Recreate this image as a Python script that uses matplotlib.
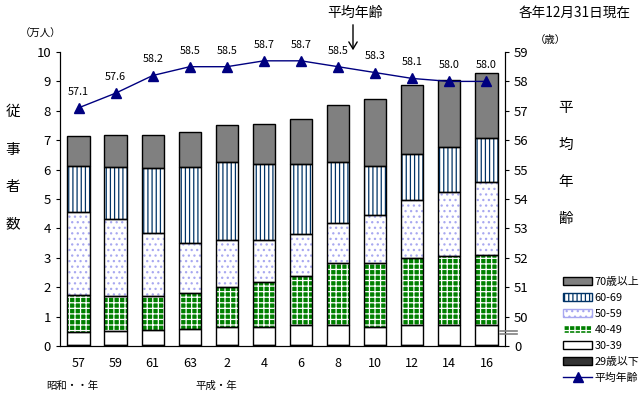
import matplotlib
matplotlib.use("Agg")
import matplotlib.pyplot as plt
from matplotlib.patches import Patch, FancyArrowPatch
from matplotlib.lines import Line2D
import numpy as np

plt.rcParams['font.family'] = ['Noto Sans CJK JP', 'DejaVu Sans']
plt.rcParams['hatch.linewidth'] = 0.9

years = ["57", "59", "61", "63", "2", "4", "6", "8", "10", "12", "14", "16"]
age_29 = [0.03] * 12
age_30s = [0.45, 0.49, 0.53, 0.56, 0.63, 0.63, 0.67, 0.70, 0.63, 0.70, 0.70, 0.67]
age_40s = [1.26, 1.18, 1.14, 1.20, 1.33, 1.50, 1.67, 2.08, 2.18, 2.28, 2.32, 2.38]
age_50s = [2.83, 2.61, 2.16, 1.73, 1.60, 1.43, 1.43, 1.36, 1.60, 1.95, 2.18, 2.49]
age_60s = [1.55, 1.77, 2.19, 2.56, 2.66, 2.59, 2.38, 2.08, 1.67, 1.58, 1.53, 1.50]
age_70 = [1.02, 1.09, 1.12, 1.19, 1.26, 1.37, 1.55, 1.94, 2.29, 2.33, 2.29, 2.21]
avg_age = [57.1, 57.6, 58.2, 58.5, 58.5, 58.7, 58.7, 58.5, 58.3, 58.1, 58.0, 58.0]
series_names = ["29歳以下", "30-39", "40-49", "50-59", "60-69", "70歳以上"]
line_name = "平均年齢"

fig = plt.figure(figsize=(6.4, 3.97), dpi=100)
ax = fig.add_axes([60/640, 1-346/397, 445/640, 294/397])
ax2 = ax.twinx()

x = np.arange(len(years))
w = 0.6
GREEN_HATCH = "+++"
DOT_COLOR = "#a8a8f0"
styles = [
    ("#333333", None, None),
    ("white", None, None),
    ("#008000", "white", GREEN_HATCH),
    ("white", DOT_COLOR, "..."),
    ("white", "#003366", "||||"),
    ("#808080", None, None),
]
data = [age_29, age_30s, age_40s, age_50s, age_60s, age_70]
bottom = np.zeros(len(years))
for vals, (fc, hc, h) in zip(data, styles):
    vals = np.array(vals)
    if h:
        ax.bar(x, vals, w, bottom=bottom, facecolor=fc, edgecolor=hc, hatch=h, linewidth=0, zorder=2)
    else:
        ax.bar(x, vals, w, bottom=bottom, facecolor=fc, linewidth=0, zorder=2)
    ax.bar(x, vals, w, bottom=bottom, fill=False, edgecolor="black", linewidth=1.0, zorder=3)
    bottom += vals

ax.set_xlim(-0.5, len(years) - 0.5)
ax.set_ylim(0, 10)
ax.set_yticks(range(0, 11))
ax.set_xticks(x)
ax.set_xticklabels(years, fontsize=9)
ax.tick_params(axis='x', length=0, pad=8)
ax.tick_params(axis='y', labelsize=9.5, length=3, direction='out')
ax.spines['top'].set_visible(False)
ax2.spines['top'].set_visible(False)

ax2.plot(x, avg_age, color="#000080", marker="^", markersize=7, linewidth=1.0, zorder=5)
for xi, v in zip(x, avg_age):
    ax2.annotate(f"{v:.1f}", (xi, v), xytext=(0, 8), textcoords="offset points",
                 ha="center", va="bottom", fontsize=7.8)
ax2.set_ylim(49, 59)
ax2.set_yticks(range(49, 60))
ax2.set_yticklabels(["0"] + [str(v) for v in range(50, 60)])
ax2.tick_params(axis='y', labelsize=9.5, length=3, direction='out')
ax.set_zorder(ax2.get_zorder() - 1)
ax2.patch.set_visible(False)
ax.patch.set_visible(False)

# axis break marks on the right axis
for yy in (330.5, 333.5):
    fig.add_artist(Line2D([500/640, 517/640], [1-yy/397, 1-yy/397], color="#808080", linewidth=1.2))

# texts
fig.text(20/640, 1-34/397, "（万人）", fontsize=7.5, va="center", ha="left")
fig.text(550/640, 1-40/397, "（歳）", fontsize=7.5, va="center", ha="center")
fig.text(519/640, 1-13/397, "各年12月31日現在", fontsize=9.8, va="center", ha="left")
fig.text(355/640, 1-13/397, "平均年齢", fontsize=10, va="center", ha="center")
fig.add_artist(FancyArrowPatch((353/640, 1-22/397), (353/640, 1-53/397),
               transform=fig.transFigure, arrowstyle="->,head_length=0.5,head_width=0.3",
               color="black", linewidth=1.0, mutation_scale=10))
for ch, yy in zip("従事者数", [112, 150, 187, 224]):
    fig.text(13/640, 1-yy/397, ch, fontsize=10.5, ha="center", va="center")
for ch, yy in zip("平均年齢", [108, 145, 182, 219]):
    fig.text(566/640, 1-yy/397, ch, fontsize=10.5, ha="center", va="center")
fig.text(72/640, 1-386/397, "昭和・・年", fontsize=7.5, ha="center", va="center")
fig.text(216/640, 1-386/397, "平成・年", fontsize=7.5, ha="center", va="center")

# legend
handles = [
    Patch(facecolor="#808080", edgecolor="black", label=series_names[5]),
    Patch(facecolor="white", edgecolor="#003366", hatch="||||", label=series_names[4]),
    Patch(facecolor="white", edgecolor=DOT_COLOR, hatch="...", label=series_names[3]),
    Patch(facecolor="#008000", edgecolor="white", hatch=GREEN_HATCH, label=series_names[2]),
    Patch(facecolor="white", edgecolor="black", label=series_names[1]),
    Patch(facecolor="#333333", edgecolor="black", label=series_names[0]),
    Line2D([], [], color="#000080", marker="^", markersize=7, linewidth=1.0, label=line_name),
]
fig.legend(handles=handles, loc="upper left", bbox_to_anchor=(563/640, 1-277/397),
           frameon=False, fontsize=7.8, handlelength=2.7, handleheight=0.7,
           handletextpad=0.2, labelspacing=0.55, borderpad=0, borderaxespad=0)

fig.savefig("out.png", dpi=100)
